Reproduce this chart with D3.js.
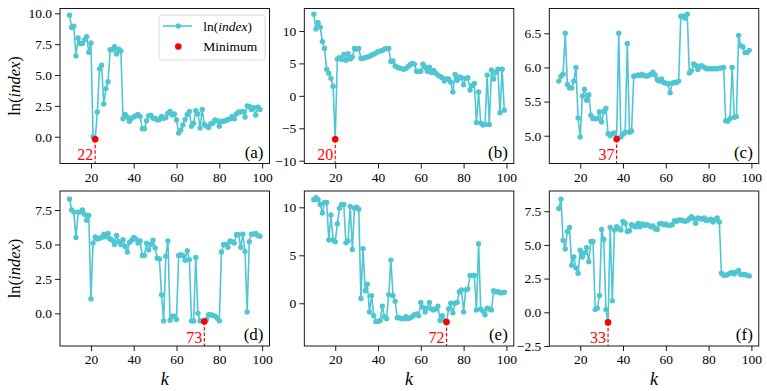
<!DOCTYPE html>
<html>
<head>
<meta charset="utf-8">
<script src="https://cdn.jsdelivr.net/npm/d3@7"></script>
<style>
    body { margin: 0; background: #fff; }
    svg text { font-family: "Liberation Serif", "Times New Roman", serif; fill: #000; }
</style>
</head>
<body>
<svg id="chart"></svg>
<script>
// k runs from 10 to 99 in every panel
const kValues = d3.range(10, 100);

const seriesA = [
    9.85, 8.85, 8.95, 6.55, 8.0, 7.55, 7.55, 7.85, 8.1, 6.85,
    7.6, 0.0, -0.2, 2.0, 5.5, 5.8, 2.65, 3.9, 4.45, 7.05,
    7.05, 7.3, 6.7, 7.1, 6.95, 1.45, 1.8, 1.6, 1.25, 1.5,
    1.6, 1.7, 1.8, 1.65, 0.65, 0.65, 1.3, 1.7, 1.75, 1.5,
    1.5, 1.35, 1.4, 1.65, 1.5, 1.55, 1.9, 2.05, 1.75, 1.85,
    1.35, 0.3, 0.55, 0.95, 1.4, 1.8, 2.05, 0.85, 1.1, 2.1,
    1.85, 0.7, 2.2, 1.0, 0.85, 0.75, 1.05, 1.1, 1.35, 1.3,
    0.85, 1.25, 1.25, 1.3, 1.4, 1.45, 1.65, 1.45, 1.85, 2.0,
    2.0, 2.05, 1.6, 2.5, 2.45, 2.2, 2.35, 1.75, 2.4, 2.2
];
const seriesB = [
    12.6, 10.3, 11.3, 10.6, 8.4, 7.3, 4.1, 3.5, 2.7, 1.5,
    -6.7, 5.7, 5.9, 5.6, 6.4, 5.5, 6.5, 5.7, 6.0, 7.3,
    7.2, 7.3, 5.8, 5.8, 5.9, 6.0, 6.1, 6.3, 6.4, 6.6,
    6.8, 6.9, 7.0, 7.2, 7.3, 7.3, 5.3, 5.4, 4.6, 4.4,
    4.3, 4.2, 4.1, 4.2, 4.5, 4.8, 5.0, 4.9, 3.8, 3.8,
    3.8, 4.9, 4.4, 3.8, 4.4, 3.6, 3.9, 3.5, 3.2, 3.0,
    2.8, 2.3, 2.6, 2.6, 2.1, 0.6, 3.3, 2.4, 2.9, 2.8,
    1.7, 2.7, 2.8, 0.9, 1.6, 1.9, -4.1, 0.6, -4.2, -4.5,
    -4.4, 3.2, -4.4, 4.0, 2.6, 3.6, 4.1, -2.6, 4.1, -2.2
];
const seriesC = [
    5.8, 5.87, 5.9, 6.5, 5.75, 5.7, 5.7, 5.8, 6.0, 5.26,
    4.98, 5.58, 5.68, 5.52, 5.6, 5.3, 5.25, 5.25, 5.25, 5.35,
    5.2, 5.35, 5.4, 5.03, 5.0, 5.03, 5.04, 4.95, 6.5, 4.98,
    5.02, 5.05, 6.35, 5.05, 5.07, 5.87, 5.88, 5.89, 5.88, 5.9,
    5.88, 5.87, 5.88, 5.9, 5.93, 5.89, 5.82, 5.8, 5.83, 5.78,
    5.77, 5.76, 5.63, 5.77, 5.78, 5.78, 5.8, 6.75, 6.75, 6.72,
    6.78, 5.92, 5.95, 6.05, 6.03, 5.97, 6.02, 6.02, 6.0, 5.98,
    5.98, 5.98, 5.98, 5.98, 5.98, 5.99, 5.99, 6.0, 5.22, 5.21,
    5.25, 6.0, 5.27, 5.28, 6.47, 6.32, 6.3, 6.22, 6.22, 6.25
];
const seriesD = [
    8.3, 7.5, 7.35, 5.5, 7.35, 7.35, 7.5, 7.2, 6.75, 7.1,
    1.05, 5.1, 5.55, 5.4, 5.45, 5.5, 5.75, 5.55, 5.8, 5.4,
    5.3, 5.0, 5.65, 5.2, 5.0, 5.35, 4.85, 4.45, 5.15, 5.3,
    5.5, 5.4, 5.1, 5.25, 4.2, 4.2, 5.1, 4.6, 5.0, 5.3,
    4.75, 4.0, 3.95, 1.35, -0.55, 4.15, 5.25, -0.5, -0.2, -0.2,
    -0.45, 4.2, 4.25, 4.2, 3.85, 4.55, 3.9, -0.55, -0.55, 4.05,
    0.0, -0.55, -0.55, -0.6, -0.45, -0.1, -0.1, -0.15, -0.2, -0.35,
    -0.55, 4.45, 5.0, 5.0, 4.8, 5.25, 5.2, 5.1, 5.7, 5.7,
    4.8, 5.75, 4.5, 0.1, 5.2, 5.75, 5.75, 5.8, 5.65, 5.6
];
const seriesE = [
    10.8, 11.0, 10.8, 10.3, 9.4, 10.5, 10.5, 6.6, 9.2, 6.6,
    6.4, 8.3, 9.9, 10.3, 10.3, 6.3, 6.5, 10.1, 5.6, 9.9,
    10.0, 9.8, 0.5, 5.7, 1.3, 2.0, -0.9, 0.8, -1.3, -1.9,
    -1.9, -1.8, -0.3, -1.4, -1.6, 0.9, 4.5, 0.8, 0.2, -1.5,
    -1.5, -1.6, -1.6, -1.4, -1.6, -1.5, -1.4, -1.2, -1.1, -1.3,
    0.1, -0.4, -0.9, -0.5, 0.1, -0.6, -0.7, -0.6, -0.3, -1.8,
    -1.3, -1.8, -1.95, -0.6, 0.0, -1.0, 0.0, 0.1, 1.2, 1.4,
    -0.9, 1.4, 1.5, 2.9, 2.9, 2.9, -0.7, 6.2, -0.6, -0.8,
    -1.2, -0.5, -0.6, -0.7, 1.3, 1.2, 1.2, 1.1, 1.1, 1.15
];
const seriesF = [
    7.7, 8.4, 5.35, 4.7, 6.0, 6.3, 3.5, 4.1, 3.3, 2.9,
    4.6, 4.1, 4.4, 4.8, 3.75, 5.25, 5.25, 0.2, 0.3, 1.25,
    6.15, 5.4, 0.2, -0.75, 6.3, 0.85, 6.1, 6.35, 6.2, 6.1,
    6.75, 6.6, 6.0, 6.05, 6.5, 6.4, 6.35, 6.6, 6.35, 6.55,
    6.45, 6.5, 6.45, 6.35, 6.4, 6.2, 6.15, 6.55, 6.6, 6.5,
    6.55, 6.45, 6.45, 6.5, 6.8, 6.75, 6.85, 6.85, 6.8, 6.75,
    6.8, 6.95, 7.1, 6.95, 6.6, 7.0, 6.95, 6.9, 7.0, 6.8,
    6.85, 6.9, 6.7, 6.85, 7.0, 6.7, 2.9, 2.75, 2.75, 2.8,
    2.9, 2.95, 2.85, 3.0, 3.1, 2.8, 2.8, 2.8, 2.75, 2.7
];

const panelLabels = ["(a)", "(b)", "(c)", "(d)", "(e)", "(f)"];
const xTicks = [20, 40, 60, 80, 100];
const yTicksA = [0, 2.5, 5, 7.5, 10];
const yTicksB = [-10, -5, 0, 5, 10];
const yTicksC = [5, 5.5, 6, 6.5];
const yTicksD = [0, 2.5, 5, 7.5];
const yTicksE = [0, 5, 10];
const yTicksF = [-2.5, 0, 2.5, 5, 7.5];

const LINE_COLOR = "#4fc6d2";
const MIN_COLOR = "#ff0000";

const panels = [
    {label: panelLabels[0], values: seriesA, ticks: yTicksA, yDomain: [-2.17, 10.39], fmt: ".1f", col: 0, row: 0, legend: true},
    {label: panelLabels[1], values: seriesB, ticks: yTicksB, yDomain: [-10.43, 13.47], fmt: "d", col: 1, row: 0},
    {label: panelLabels[2], values: seriesC, ticks: yTicksC, yDomain: [4.593, 6.863], fmt: ".1f", col: 2, row: 0},
    {label: panelLabels[3], values: seriesD, ticks: yTicksD, yDomain: [-2.37, 8.88], fmt: ".1f", col: 0, row: 1},
    {label: panelLabels[4], values: seriesE, ticks: yTicksE, yDomain: [-4.45, 11.7], fmt: "d", col: 1, row: 1},
    {label: panelLabels[5], values: seriesF, ticks: yTicksF, yDomain: [-2.5, 9.0], fmt: ".1f", col: 2, row: 1}
];

const config = {
    width: 767,
    height: 391,
    colLeft: [60, 304.3, 549.3],
    rowTop: [8.5, 191],
    plotWidth: 209.5,
    plotHeight: 155,
    xDomain: [5.55, 103.45],
    tickFont: 13.5
};

const svg = d3.select("#chart")
    .attr("width", config.width)
    .attr("height", config.height);

svg.append("rect")
    .attr("width", config.width)
    .attr("height", config.height)
    .attr("fill", "#fff");

function drawPanel(p) {
    const w = config.plotWidth, h = config.plotHeight;
    const g = svg.append("g")
        .attr("transform", `translate(${config.colLeft[p.col]},${config.rowTop[p.row]})`);

    const x = d3.scaleLinear().domain(config.xDomain).range([0, w]);
    const y = d3.scaleLinear().domain(p.yDomain).range([h, 0]);

    const data = kValues.map((k, i) => ({k: k, v: p.values[i]}));

    // axes
    const xAxis = d3.axisBottom(x).tickValues(xTicks).tickSize(5).tickPadding(3.5).tickFormat(d3.format("d"));
    const yAxis = d3.axisLeft(y).tickValues(p.ticks).tickSize(5).tickPadding(3).tickFormat(d3.format(p.fmt));

    const xg = g.append("g").attr("transform", `translate(0,${h})`).call(xAxis);
    const yg = g.append("g").call(yAxis);
    [xg, yg].forEach(a => {
        a.attr("font-family", null);
        a.select(".domain").remove();
        a.selectAll(".tick line").attr("stroke", "#000").attr("stroke-width", 0.9);
        a.selectAll(".tick text").attr("font-size", config.tickFont);
    });

    // series
    g.append("path")
        .datum(data)
        .attr("fill", "none")
        .attr("stroke", LINE_COLOR)
        .attr("stroke-width", 1.6)
        .attr("d", d3.line().x(d => x(d.k)).y(d => y(d.v)));

    g.selectAll(".pt")
        .data(data)
        .join("circle")
        .attr("class", "pt")
        .attr("cx", d => x(d.k))
        .attr("cy", d => y(d.v))
        .attr("r", 2.7)
        .attr("fill", LINE_COLOR);

    // minimum marker
    const mi = d3.minIndex(data, d => d.v);
    const m = data[mi];
    g.append("line")
        .attr("x1", x(m.k)).attr("x2", x(m.k))
        .attr("y1", y(m.v)).attr("y2", h)
        .attr("stroke", MIN_COLOR)
        .attr("stroke-width", 1.2)
        .attr("stroke-dasharray", "3.5,2");
    g.append("circle")
        .attr("cx", x(m.k))
        .attr("cy", y(m.v))
        .attr("r", 3.3)
        .attr("fill", MIN_COLOR);
    g.append("text")
        .attr("x", x(m.k) - 2)
        .attr("y", h - 3.3)
        .attr("text-anchor", "end")
        .attr("font-size", 16)
        .style("fill", MIN_COLOR)
        .text(m.k);

    // panel label
    g.append("text")
        .attr("x", w - 6)
        .attr("y", h - 6)
        .attr("text-anchor", "end")
        .attr("font-size", 17)
        .text(p.label);

    // frame
    g.append("rect")
        .attr("width", w)
        .attr("height", h)
        .attr("fill", "none")
        .attr("stroke", "#000")
        .attr("stroke-width", 0.9);

    if (p.col === 0) {
        const yl = g.append("text")
            .attr("transform", `translate(-40,${h / 2}) rotate(-90)`)
            .attr("text-anchor", "middle")
            .attr("font-size", 16.5);
        yl.append("tspan").text("ln(");
        yl.append("tspan").attr("font-style", "italic").text("index");
        yl.append("tspan").text(")");
    }
    if (p.row === 1) {
        g.append("text")
            .attr("x", w / 2)
            .attr("y", h + 39)
            .attr("text-anchor", "middle")
            .attr("font-size", 18)
            .attr("font-style", "italic")
            .text("k");
    }

    if (p.legend) drawLegend(g, w);
}

function drawLegend(g, w) {
    const lw = 106, lh = 45;
    const lg = g.append("g").attr("transform", `translate(${w - lw - 4.5},6.5)`);
    lg.append("rect")
        .attr("width", lw).attr("height", lh)
        .attr("rx", 2.5)
        .attr("fill", "#fff")
        .attr("fill-opacity", 0.8)
        .attr("stroke", "#d0d0d0")
        .attr("stroke-width", 0.8);

    lg.append("line")
        .attr("x1", 4).attr("x2", 33).attr("y1", 11).attr("y2", 11)
        .attr("stroke", LINE_COLOR).attr("stroke-width", 1.6);
    lg.append("circle").attr("cx", 19.3).attr("cy", 11).attr("r", 2.7).attr("fill", LINE_COLOR);
    const t1 = lg.append("text").attr("x", 44.3).attr("y", 16).attr("font-size", 13.5);
    t1.append("tspan").text("ln(");
    t1.append("tspan").attr("font-style", "italic").text("index");
    t1.append("tspan").text(")");

    lg.append("circle").attr("cx", 19.3).attr("cy", 31.5).attr("r", 3.3).attr("fill", MIN_COLOR);
    lg.append("text").attr("x", 44.3).attr("y", 35.7).attr("font-size", 13.5).text("Minimum");
}

panels.forEach(drawPanel);
</script>
</body>
</html>
